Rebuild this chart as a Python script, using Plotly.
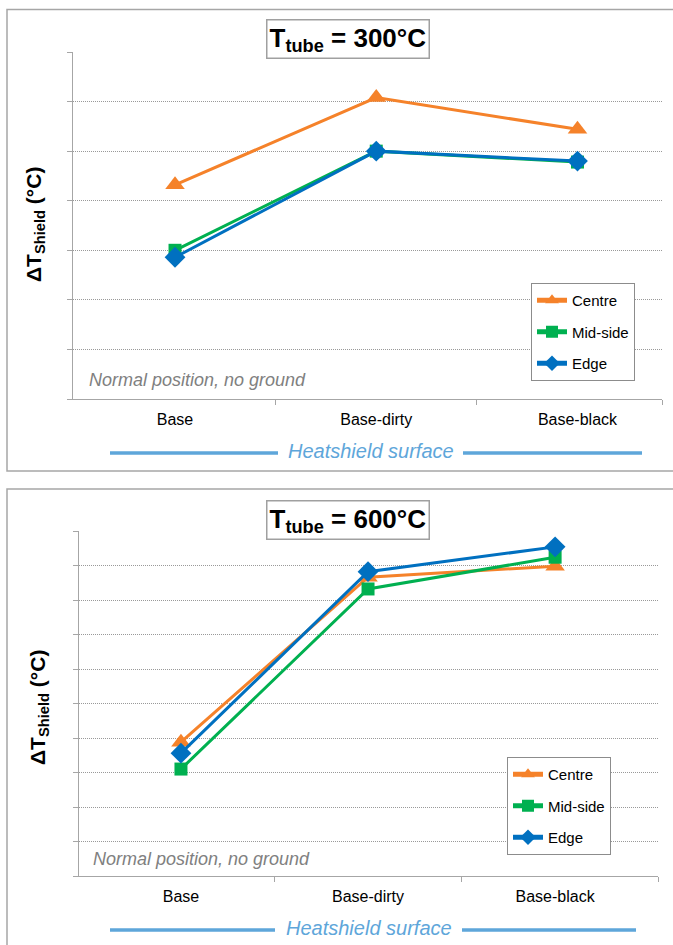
import plotly.graph_objects as go

# Heatshield surface categories (x positions 0, 1, 2)
categories = ["Base", "Base-dirty", "Base-black"]
cat_pos = [0, 1, 2]

# Shield temperature rise, tube at 300 °C
t300_centre = [21.6, 30.4, 27.2]
t300_midside = [15.0, 25.0, 23.9]
t300_edge = [14.3, 25.0, 24.0]

# Shield temperature rise, tube at 600 °C
t600_centre = [19.4, 43.3, 44.9]
t600_midside = [15.5, 41.6, 46.2]
t600_edge = [17.8, 44.1, 47.7]

series_names = ["Centre", "Mid-side", "Edge"]
colors = ["#F5822A", "#00B050", "#0070C0"]
symbols = ["triangle-up", "square", "diamond"]
msizes = [17, 13, 16]

W, H = 673, 945
FONT = "Liberation Sans, Arial, sans-serif"
GRID = "#999999"
AXIS = "#a6a6a6"
BLUE_TXT = "#5EA6DA"


def px(x):
    return x / W


def py(y):
    return 1 - y / H


fig = go.Figure()

panels = [
    dict(data=[t300_centre, t300_midside, t300_edge], xa="x", ya="y", legend="legend"),
    dict(data=[t600_centre, t600_midside, t600_edge], xa="x2", ya="y2", legend="legend2"),
]

for p in panels:
    for i, vals in enumerate(p["data"]):
        fig.add_trace(go.Scatter(
            x=cat_pos, y=vals, name=series_names[i], mode="lines+markers",
            line=dict(color=colors[i], width=3),
            marker=dict(symbol=symbols[i], size=msizes[i], color=colors[i]),
            xaxis=p["xa"], yaxis=p["ya"], legend=p["legend"],
            legendgroup=p["legend"] + series_names[i],
        ))

common_x = dict(
    tickmode="array", tickvals=cat_pos, ticktext=categories,
    ticks="outside", ticklen=6, tickcolor="rgba(0,0,0,0)",
    tickfont=dict(family=FONT, size=16, color="#000000"),
    showgrid=False, zeroline=False, showline=True, linecolor=AXIS, linewidth=1.3,
    fixedrange=True,
)
common_y = dict(
    showticklabels=False, ticks="outside", ticklen=5, tickcolor=AXIS,
    showgrid=True, gridcolor=GRID, griddash="1px,1px", gridwidth=1,
    zeroline=False, showline=True, linecolor=AXIS, linewidth=1.3,
    fixedrange=True,
)

legend_style = dict(
    xanchor="left", yanchor="top",
    bgcolor="white", bordercolor="#8c8c8c", borderwidth=1,
    font=dict(family=FONT, size=15, color="#000000"),
    traceorder="grouped", tracegroupgap=9, itemwidth=30, itemsizing="constant",
)

fig.update_layout(
    width=W, height=H, margin=dict(l=0, r=0, t=0, b=0),
    paper_bgcolor="white", plot_bgcolor="white",
    font=dict(family=FONT, color="#000000"),
    xaxis=dict(common_x, domain=[px(73), px(662)], range=[-0.507, 2.42], anchor="y",
               minor=dict(tickmode="array", tickvals=[0.5, 1.5, 2.42], ticks="outside",
                          ticklen=5, tickcolor=AXIS, showgrid=False)),
    yaxis=dict(common_y, domain=[py(399), py(52)], range=[0, 35], dtick=5, anchor="x"),
    xaxis2=dict(common_x, domain=[px(79), px(658)], range=[-0.545, 2.55], anchor="y2",
                minor=dict(tickmode="array", tickvals=[0.5, 1.5, 2.55], ticks="outside",
                           ticklen=5, tickcolor=AXIS, showgrid=False)),
    yaxis2=dict(common_y, domain=[py(876), py(531)], range=[0, 50], dtick=5, anchor="x2"),
    legend=dict(legend_style, x=px(531), y=py(283)),
    legend2=dict(legend_style, x=px(507), y=py(757)),
)

shapes = []
annotations = []

# Panel frames
for top, bottom in [(9.5, 471), (489, 960)]:
    shapes.append(dict(type="rect", xref="paper", yref="paper",
                       x0=px(7), x1=1.02, y0=py(bottom), y1=py(top),
                       line=dict(color="#a6a6a6", width=1.5), layer="below"))

panel_text = [
    dict(title="300", title_y=39, ylab_x=35, ylab_y=225, note_x=87, note_y=380,
         surf_y=451, line_l=(110, 278), line_r=(463, 642)),
    dict(title="600", title_y=520, ylab_x=39, ylab_y=708, note_x=91, note_y=859,
         surf_y=928, line_l=(110, 275), line_r=(462, 636)),
]

for t in panel_text:
    annotations.append(dict(
        xref="paper", yref="paper", x=px(348), y=py(t["title_y"]),
        text="<b>T<sub>tube</sub> = " + t["title"] + "°C</b>", showarrow=False,
        font=dict(family=FONT, size=26, color="#000000"),
        bgcolor="white", bordercolor="#a0a0a0", borderwidth=1.5, borderpad=2,
        xanchor="center", yanchor="middle"))
    annotations.append(dict(
        xref="paper", yref="paper", x=px(t["ylab_x"]), y=py(t["ylab_y"]),
        text="<b>ΔT<sub>Shield</sub> (°C)</b>", textangle=-90, showarrow=False,
        font=dict(family=FONT, size=21, color="#000000"),
        xanchor="center", yanchor="middle"))
    annotations.append(dict(
        xref="paper", yref="paper", x=px(t["note_x"]), y=py(t["note_y"]),
        text="<i>Normal position, no ground</i>", showarrow=False,
        font=dict(family=FONT, size=18, color="#808080"),
        xanchor="left", yanchor="middle"))
    annotations.append(dict(
        xref="paper", yref="paper", x=px((t["line_l"][1] + t["line_r"][0]) / 2), y=py(t["surf_y"]),
        text="<i>Heatshield surface</i>", showarrow=False,
        font=dict(family=FONT, size=20, color=BLUE_TXT),
        xanchor="center", yanchor="middle"))
    for x0, x1 in (t["line_l"], t["line_r"]):
        shapes.append(dict(type="line", xref="paper", yref="paper",
                           x0=px(x0), x1=px(x1), y0=py(t["surf_y"] + 2), y1=py(t["surf_y"] + 2),
                           line=dict(color=BLUE_TXT, width=3.5)))

fig.update_layout(shapes=shapes, annotations=annotations)

fig.write_html("out.html")
